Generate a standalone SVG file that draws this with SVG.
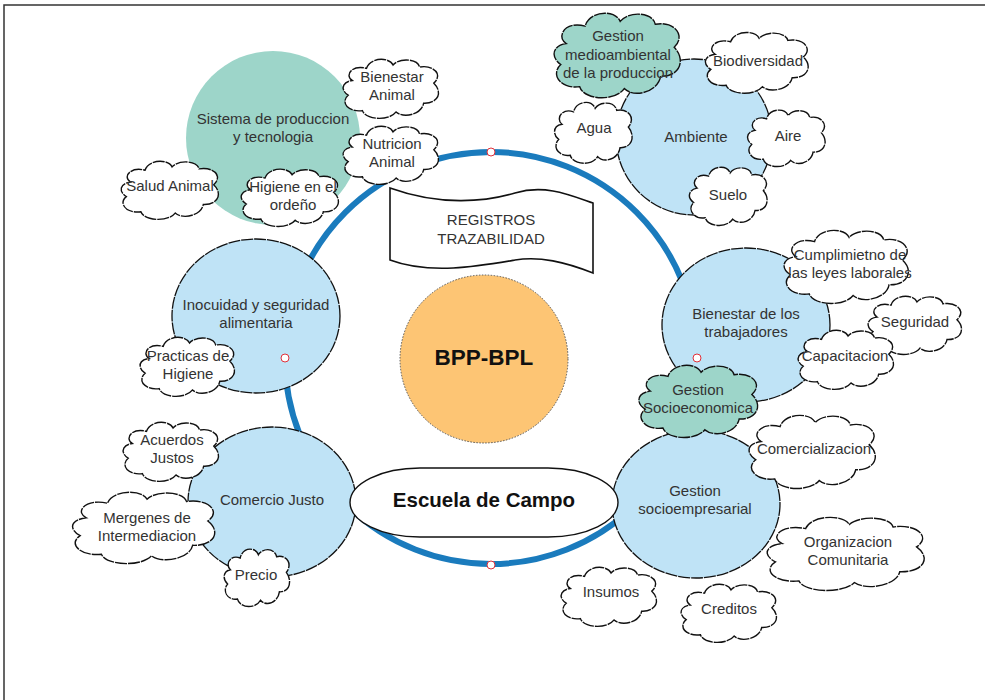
<svg xmlns="http://www.w3.org/2000/svg" xmlns:xlink="http://www.w3.org/1999/xlink" width="985" height="700" viewBox="0 0 985 700">
<style>
text{font-family:"Liberation Sans",Arial,sans-serif;font-size:15px;fill:#333;text-anchor:middle;dominant-baseline:middle}
.bold{font-weight:bold;fill:#111;font-size:22.5px}
.topic{fill:#bfe3f6;stroke:#111;stroke-width:1.3;stroke-dasharray:12 1}
.teal{fill:#9dd5c9}
.cl{fill:#fff;stroke:#111;stroke-width:1.4;stroke-dasharray:12 1}
.clt{fill:#9dd5c9;stroke:#111;stroke-width:1.4;stroke-dasharray:12 1}
.dot{fill:#fff;stroke:#e0303a;stroke-width:1}
</style>
<defs>
<path id="cloud" vector-effect="non-scaling-stroke" d="M12,38 C4,30 12,14 26,20 C29,4 48,2 52,15 C58,4 76,5 78,18 C92,14 101,30 92,42 C101,55 96,73 82,72 C80,89 62,95 55,85 C48,99 25,97 22,83 C8,86 0,70 8,60 C0,52 2,40 12,38 Z"/>
</defs>
<rect width="985" height="700" fill="#fff"/>
<path d="M4,700 V5 H985" fill="none" stroke="#333" stroke-width="1.5"/>

<g id="connectors">
<circle cx="491" cy="358" r="206" fill="none" stroke="#1a7bbd" stroke-width="6"/>
</g>

<g id="sistema">
<circle class="teal" cx="273" cy="138" r="87"/>
<text x="273" y="120">Sistema de produccion</text>
<text x="273" y="138">y tecnologia</text>
</g>
<g id="ambiente">
<circle class="topic" cx="694" cy="137" r="78"/>
<text x="696" y="138">Ambiente</text>
</g>
<g id="inocuidad">
<ellipse class="topic" cx="256" cy="316" rx="84" ry="77"/>
<text x="256" y="306">Inocuidad y seguridad</text>
<text x="256" y="324">alimentaria</text>
</g>
<g id="comercio">
<ellipse class="topic" cx="272" cy="502" rx="84" ry="75"/>
<text x="272" y="501">Comercio Justo</text>
</g>
<g id="bienestar-trab">
<ellipse class="topic" cx="746" cy="325" rx="84" ry="77"/>
<text x="746" y="315">Bienestar de los</text>
<text x="746" y="333">trabajadores</text>
</g>
<g id="socioempresarial">
<ellipse class="topic" cx="696" cy="504" rx="84" ry="74"/>
<text x="695" y="492">Gestion</text>
<text x="695" y="510">socioempresarial</text>
</g>

<g id="registros">
<path d="M390,188 C440,206 485,202 515,193 C545,184 570,195 593,203 L593,273 C565,262 540,256 515,260 C480,266 430,275 390,260 Z" fill="#fff" stroke="#111" stroke-width="1.6"/>
<text x="491" y="221">REGISTROS</text>
<text x="491" y="240">TRAZABILIDAD</text>
</g>
<g id="bpp">
<circle cx="484" cy="359" r="84" fill="#fdc574" stroke="#555" stroke-width="1" stroke-dasharray="1.5 1.5"/>
<text class="bold" x="484" y="359">BPP-BPL</text>
</g>
<g id="escuela">
<rect x="350" y="468" width="268" height="69" rx="70" ry="35" fill="#fff" stroke="#111" stroke-width="1.4"/>
<text class="bold" x="484" y="502" style="font-size:20.5px">Escuela de Campo</text>
</g>

<g id="c-medioambiental"><use xlink:href="#cloud" class="clt" transform="translate(550,7) scale(1.35,0.96)"/>
<text x="618" y="37">Gestion</text><text x="618" y="56">medioambiental</text><text x="618" y="74">de la produccion</text></g>
<g id="c-biodiversidad"><use xlink:href="#cloud" class="cl" transform="translate(702,28) scale(1.1,0.69)"/>
<text x="758" y="62">Biodiversidad</text></g>
<g id="c-agua"><use xlink:href="#cloud" class="cl" transform="translate(552,98) scale(0.83,0.69)"/>
<text x="594" y="129">Agua</text></g>
<g id="c-aire"><use xlink:href="#cloud" class="cl" transform="translate(745,106) scale(0.83,0.64)"/>
<text x="788" y="137">Aire</text></g>
<g id="c-suelo"><use xlink:href="#cloud" class="cl" transform="translate(687,163) scale(0.83,0.66)"/>
<text x="728" y="196">Suelo</text></g>

<g id="c-bienestar-animal"><use xlink:href="#cloud" class="cl" transform="translate(340,55) scale(1.02,0.67)"/>
<text x="392" y="78">Bienestar</text><text x="392" y="96">Animal</text></g>
<g id="c-nutricion"><use xlink:href="#cloud" class="cl" transform="translate(340,122) scale(1.02,0.66)"/>
<text x="392" y="145">Nutricion</text><text x="392" y="163">Animal</text></g>
<g id="c-salud"><use xlink:href="#cloud" class="cl" transform="translate(118,157) scale(1.04,0.66)"/>
<text x="170" y="187">Salud Animal</text></g>
<g id="c-higiene-ordeno"><use xlink:href="#cloud" class="cl" transform="translate(238,165) scale(1.04,0.65)"/>
<text x="293" y="188">Higiene en el</text><text x="293" y="206">ordeño</text></g>

<g id="c-practicas"><use xlink:href="#cloud" class="cl" transform="translate(137,333) scale(1.01,0.67)"/>
<text x="188" y="357">Practicas de</text><text x="188" y="375">Higiene</text></g>

<g id="c-cumplimiento"><use xlink:href="#cloud" class="cl" transform="translate(780,225) scale(1.33,0.83)"/>
<text x="850" y="256">Cumplimietno de</text><text x="850" y="274">las leyes laborales</text></g>
<g id="c-seguridad"><use xlink:href="#cloud" class="cl" transform="translate(865,292) scale(1.0,0.66)"/>
<text x="915" y="323">Seguridad</text></g>
<g id="c-capacitacion"><use xlink:href="#cloud" class="cl" transform="translate(795,326) scale(1.02,0.67)"/>
<text x="845" y="357">Capacitacion</text></g>
<g id="c-socioeconomica"><use xlink:href="#cloud" class="clt" transform="translate(635,360) scale(1.27,0.82)"/>
<text x="698" y="391">Gestion</text><text x="698" y="409">Socioeconomica</text></g>

<g id="c-comercializacion"><use xlink:href="#cloud" class="cl" transform="translate(745,410) scale(1.35,0.83)"/>
<text x="814" y="450">Comercializacion</text></g>
<g id="c-organizacion"><use xlink:href="#cloud" class="cl" transform="translate(762,512) scale(1.68,0.83)"/>
<text x="848" y="543">Organizacion</text><text x="848" y="561">Comunitaria</text></g>
<g id="c-insumos"><use xlink:href="#cloud" class="cl" transform="translate(558,563) scale(1.02,0.67)"/>
<text x="611" y="593">Insumos</text></g>
<g id="c-creditos"><use xlink:href="#cloud" class="cl" transform="translate(678,580) scale(1.02,0.66)"/>
<text x="729" y="610">Creditos</text></g>

<g id="c-acuerdos"><use xlink:href="#cloud" class="cl" transform="translate(120,418) scale(1.02,0.67)"/>
<text x="172" y="441">Acuerdos</text><text x="172" y="459">Justos</text></g>
<g id="c-mergenes"><use xlink:href="#cloud" class="cl" transform="translate(68,487) scale(1.52,0.81)"/>
<text x="147" y="519">Mergenes de</text><text x="147" y="537">Intermediacion</text></g>
<g id="c-precio"><use xlink:href="#cloud" class="cl" transform="translate(222,545) scale(0.7,0.65)"/>
<text x="256" y="576">Precio</text></g>

<g id="points">
<circle class="dot" cx="491" cy="152" r="4"/>
<circle class="dot" cx="697" cy="358" r="4"/>
<circle class="dot" cx="491" cy="565" r="4"/>
<circle class="dot" cx="285" cy="358" r="4"/>
</g>
</svg>
